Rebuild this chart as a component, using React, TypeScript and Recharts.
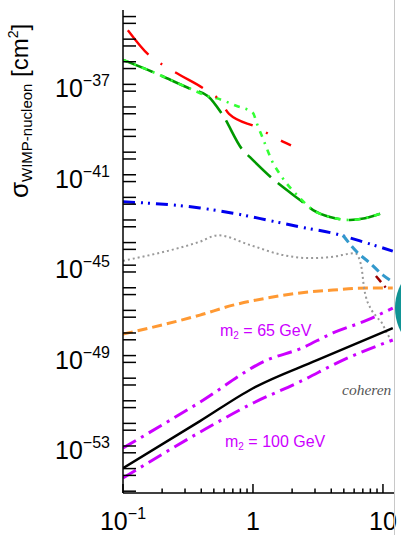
import React from 'react'
import { LineChart, Line, XAxis, YAxis } from 'recharts'

// WIMP mass [GeV] vs WIMP-nucleon cross section [cm^2]
const redMass = [0.109, 0.158, 0.203, 0.274, 0.435, 0.557, 0.654, 1.09, 1.45, 1.96]
const redSigma = [2.5e-35, 2.0e-36, 7.1e-37, 2.6e-37, 5.6e-38, 1.9e-38, 4.9e-39, 1.2e-39, 4.7e-40, 2.0e-40]

const greenMass = [0.1, 0.17, 0.333, 0.451, 0.578, 0.838, 0.948, 1.4, 2.3, 2.9, 3.91, 5.57, 7.27, 9.82]
const greenSigma = [1.2e-36, 3.5e-37, 6.2e-38, 3.0e-38, 4.9e-39, 1.2e-40, 6.0e-41, 7.1e-42, 7.6e-43, 2.75e-43, 1.35e-43, 1.0e-43, 1.2e-43, 2.0e-43]

const limeMass = [0.1, 0.17, 0.333, 0.451, 0.528, 0.75, 1.0, 1.07, 1.22, 1.39, 1.67, 2.3, 2.9, 3.91, 5.57, 7.27, 9.82]
const limeSigma = [1.2e-36, 3.5e-37, 6.2e-38, 3.0e-38, 2.4e-38, 1.1e-38, 5.4e-39, 1.9e-39, 2.9e-40, 4.5e-41, 7.9e-42, 9.3e-43, 2.75e-43, 1.35e-43, 1.0e-43, 1.2e-43, 2.0e-43]

const blueMass = [0.1, 0.391, 0.702, 1.28, 2.3, 4.12, 7.54, 11.9]
const blueSigma = [6.4e-43, 3.4e-43, 2.0e-43, 1.0e-43, 4.9e-44, 2.6e-44, 9.5e-45, 4.2e-45]

const floorMass = [0.1, 0.391, 0.538, 0.948, 1.7, 2.74, 4.12, 6.09, 6.54, 6.89, 7.14, 7.4, 7.94, 8.99, 9.82, 10.7, 11.3]
const floorSigma = [1.56e-45, 1.1e-44, 2.1e-44, 7.8e-45, 2.8e-45, 2.05e-45, 2.35e-45, 3.4e-45, 2.05e-45, 6.0e-46, 1.07e-46, 3.9e-47, 1.4e-47, 5.0e-48, 2.75e-48, 1.0e-48, 5.9e-49]

const skyMass = [4.92, 6.31, 7.94, 10, 11.9]
const skySigma = [2.1e-44, 3.8e-45, 1.24e-45, 3.6e-46, 1.8e-46]

const maroonMass = [8.83, 9.82, 11.1]
const maroonSigma = [3.3e-46, 1.6e-46, 7.1e-47]

const orangeMass = [0.1, 0.391, 0.702, 1.28, 2.3, 4.12, 7.54, 11.9]
const orangeSigma = [8.9e-49, 6.2e-48, 1.7e-47, 3.5e-47, 5.9e-47, 7.9e-47, 9.7e-47, 9.7e-47]

const m65Mass = [0.1, 0.391, 1.28, 2.3, 4.12, 7.54, 11.9]
const m65Sigma = [8.1e-54, 8.7e-52, 6.3e-50, 2.0e-49, 1.0e-48, 3.7e-48, 1.26e-47]

const blackMass = [0.1, 0.391, 1.0, 3.11, 11.9]
const blackSigma = [1.05e-54, 1.26e-52, 3.6e-51, 6.3e-50, 1.65e-48]

const m100Mass = [0.1, 0.391, 1.0, 2.3, 4.92, 11.9]
const m100Sigma = [3.8e-55, 4.1e-53, 7.9e-52, 7.0e-51, 6.3e-50, 4.9e-49]

const xTicks = [0.1, 0.2, 0.3, 0.4, 0.5, 0.6, 0.7, 0.8, 0.9, 1, 2, 3, 4, 5, 6, 7, 8, 9, 10]
const xMajor = [0.1, 1, 10]
const xLabelBase = ['10', '1', '10']
const xLabelExp = ['\u22121', '', '']
const yDecades = [-55, -54, -53, -52, -51, -50, -49, -48, -47, -46, -45, -44, -43, -42, -41, -40, -39, -38, -37, -36, -35, -34]
const yLabelExps = [-37, -41, -45, -49, -53]

const xDomain = [0.1, 12.16]
const yDomain = [Math.pow(10, -55.08), Math.pow(10, -33.71)]

const yTicks: number[] = []
yDecades.forEach((n) => {
  yTicks.push(Math.pow(10, n))
  if (n > -55) yTicks.push(5 * Math.pow(10, n - 1))
})

const FONT = "'Liberation Sans', Arial, Helvetica, sans-serif"

const pts = (xs: number[], ys: number[]) => xs.map((x, i) => ({ x, y: ys[i] }))

const renderYTick = (props: any) => {
  const { x, y, payload } = props
  const lg = Math.log10(payload.value)
  const e = Math.round(lg)
  const labelled = Math.abs(lg - e) < 1e-6 && yLabelExps.includes(e)
  return (
    <g>
      <line x1={x} x2={x + 13} y1={y} y2={y} stroke="#000" strokeWidth={1.5} />
      {labelled && (
        <text x={x - 13} y={y + 13} textAnchor="end" fontSize={25} fill="#000" fontFamily={FONT}>
          10<tspan dy={-11} fontSize={16}>{'\u2212' + -e}</tspan>
        </text>
      )}
    </g>
  )
}

const renderXTick = (props: any) => {
  const { x, y, payload } = props
  const idx = xMajor.findIndex((m) => Math.abs(m - payload.value) < 1e-9)
  const len = idx >= 0 ? 9 : 4.5
  return (
    <g>
      <line x1={x} x2={x} y1={y} y2={y - len} stroke="#000" strokeWidth={1.5} />
      {idx >= 0 && (
        <text x={x} y={y + 37} textAnchor="middle" fontSize={25} fill="#000" fontFamily={FONT}>
          {xLabelBase[idx]}
          {xLabelExp[idx] && <tspan dy={-11} fontSize={16}>{xLabelExp[idx]}</tspan>}
        </text>
      )}
    </g>
  )
}

const renderTopTick = (props: any) => {
  const { x, y, payload } = props
  const major = xMajor.some((m) => Math.abs(m - payload.value) < 1e-9)
  return <line x1={x} x2={x} y1={y} y2={y + (major ? 10 : 5)} stroke="#000" strokeWidth={1.5} />
}

export default function App() {
  const line = (id: string, data: any[], color: string, width: number, dash?: string) => (
    <Line
      key={id}
      data={data}
      dataKey="y"
      type="monotone"
      stroke={color}
      strokeWidth={width}
      strokeDasharray={dash}
      dot={false}
      activeDot={false}
      isAnimationActive={false}
    />
  )

  return (
    <div style={{ position: 'fixed', left: 0, top: 0, width: 401, height: 535, overflow: 'hidden', background: '#fff' }}>
      <LineChart width={401} height={535} margin={{ top: 10, right: 7, bottom: 0, left: 0 }}>
        <XAxis
          type="number"
          dataKey="x"
          scale="log"
          domain={xDomain}
          allowDataOverflow
          ticks={xTicks}
          interval={0}
          tick={renderXTick}
          tickLine={false}
          tickSize={0}
          tickMargin={0}
          height={42}
          axisLine={{ stroke: '#000', strokeWidth: 1.5 }}
        />
        <XAxis
          xAxisId="top"
          orientation="top"
          type="number"
          dataKey="x"
          scale="log"
          domain={xDomain}
          allowDataOverflow
          ticks={xTicks}
          interval={0}
          tick={renderTopTick}
          tickLine={false}
          tickSize={0}
          tickMargin={0}
          height={0}
          axisLine={{ stroke: '#000', strokeWidth: 1.5 }}
        />
        <YAxis
          type="number"
          scale="log"
          domain={yDomain}
          allowDataOverflow
          ticks={yTicks}
          interval={0}
          tick={renderYTick}
          tickLine={false}
          tickSize={0}
          tickMargin={0}
          width={123}
          axisLine={{ stroke: '#000', strokeWidth: 1.5 }}
        />
        {line('orange', pts(orangeMass, orangeSigma), '#ff9933', 3, '10 5')}
        {line('floor', pts(floorMass, floorSigma), '#999999', 2, '2 3')}
        {line('blue', pts(blueMass, blueSigma), '#0000ee', 3, '12 6 2 5 2 6')}
        {line('sky', pts(skyMass, skySigma), '#3399cc', 3, '9 5')}
        {line('maroon', pts(maroonMass, maroonSigma), '#990000', 2.5, '8 5 2 5')}
        {line('green', pts(greenMass, greenSigma), '#009900', 2.6, '32 9')}
        {line('lime', pts(limeMass, limeSigma), '#33ff33', 2.6, '6 6 2 6')}
        {line('red', pts(redMass, redSigma), '#ff0000', 2.4, '32 15 2 15')}
        {line('m65', pts(m65Mass, m65Sigma), '#cc00ff', 3, '15 6 3 6')}
        {line('m100', pts(m100Mass, m100Sigma), '#cc00ff', 3, '15 6 3 6')}
        {line('black', pts(blackMass, blackSigma), '#000000', 2.4)}
      </LineChart>

      <svg style={{ position: 'absolute', left: 0, top: 0, pointerEvents: 'none' }} width={394} height={535}>
        <text transform="translate(28,198) rotate(-90)" fontFamily={FONT} fontSize={26} fill="#000">
          σ<tspan fontSize={15} dy={4}>WIMP-nucleon</tspan>
          <tspan fontSize={24} dy={-4}> [cm</tspan>
          <tspan fontSize={14} dy={-10}>2</tspan>
          <tspan fontSize={24} dy={10}>]</tspan>
        </text>
        <text x={220} y={336} fontFamily={FONT} fontSize={16} fill="#cc00ff">
          m<tspan fontSize={10} dy={3}>2</tspan>
          <tspan dy={-3}> = 65 GeV</tspan>
        </text>
        <text x={225} y={447} fontFamily={FONT} fontSize={16} fill="#cc00ff">
          m<tspan fontSize={10} dy={3}>2</tspan>
          <tspan dy={-3}> = 100 GeV</tspan>
        </text>
        <text x={342} y={395} fontFamily="'Liberation Serif', 'Times New Roman', serif" fontStyle="italic" fontSize={15.5} fill="#555">
          coheren
        </text>
      </svg>

      <div style={{ position: 'absolute', left: 394, top: 0, width: 1, height: 535, background: '#c8c8c8' }} />
      <div
        style={{
          position: 'absolute',
          left: 395,
          top: 257,
          width: 102,
          height: 102,
          borderRadius: '50%',
          background: 'radial-gradient(circle at 40% 50%, #20a8a8, #007d80)',
        }}
      />
    </div>
  )
}
